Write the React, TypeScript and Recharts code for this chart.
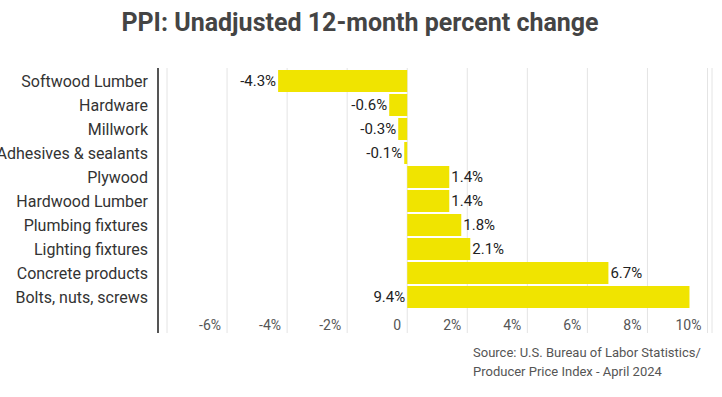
import { BarChart, Bar, XAxis, YAxis, CartesianGrid, LabelList } from 'recharts';

// ─── Data ────────────────────────────────────────────────────────────────────
const categories = [
  'Softwood Lumber',
  'Hardware',
  'Millwork',
  'Adhesives & sealants',
  'Plywood',
  'Hardwood Lumber',
  'Plumbing fixtures',
  'Lighting fixtures',
  'Concrete products',
  'Bolts, nuts, screws',
];
const changes = [-4.3, -0.6, -0.3, -0.1, 1.4, 1.4, 1.8, 2.1, 6.7, 9.4];
const xTicks = [-8, -6, -4, -2, 0, 2, 4, 6, 8, 10];

const data = categories.map((name, i) => ({ name, value: changes[i] }));

const FONT = 'Roboto, "Noto Sans", sans-serif';
const BAR_COLOR = '#f0e400';

// ─── X tick: right-aligned just left of its gridline ────────────────────────
const XTick = (props: any) => {
  const { x, y, payload } = props;
  const v = payload.value as number;
  if (v === -8) return null;
  return (
    <text x={x - 6} y={y - 3} textAnchor="end" fill="#555" fontSize={14} fontFamily={FONT}>
      {v === 0 ? '0' : `${v}%`}
    </text>
  );
};

// ─── Value label ─────────────────────────────────────────────────────────────
const ValueLabel = (props: any) => {
  const { x, y, width, height, value } = props;
  const left = Math.min(x, x + width);
  const right = Math.max(x, x + width);
  const cy = y + height / 2;
  // negative values, and the bar running off the right edge, get the label on the left
  const onLeft = value < 0 || right > 660;
  return (
    <text
      x={onLeft ? left - 2 : right + 2}
      y={cy}
      dy="0.36em"
      textAnchor={onLeft ? 'end' : 'start'}
      fill="#222"
      fontSize={15}
      fontFamily={FONT}
    >
      {`${value}%`}
    </text>
  );
};

export default function App() {
  return (
    <div style={{ position: 'fixed', left: 0, top: 0, width: 722, height: 397, background: '#fff', fontFamily: FONT }}>
      <div
        style={{
          position: 'absolute', left: 0, width: 722, top: 8, textAlign: 'center',
          fontSize: 25, fontWeight: 700, color: '#444',
        }}
      >
        <span style={{ position: 'relative', left: -1 }}>PPI: Unadjusted 12-month percent change</span>
      </div>
      <BarChart
        width={722}
        height={397}
        data={data}
        layout="vertical"
        margin={{ top: 68, right: 10, bottom: 63, left: 0 }}
        barCategoryGap={1}
      >
        <CartesianGrid horizontal={false} stroke="#e4e4e4" />
        <XAxis
          type="number"
          domain={[-8.3, 10.15]}
          ticks={xTicks}
          allowDataOverflow
          height={1}
          axisLine={false}
          tickLine={false}
          tickSize={0}
          tickMargin={0}
          tick={<XTick />}
        />
        <YAxis
          type="category"
          dataKey="name"
          width={158}
          padding={{ top: 1, bottom: 24 }}
          axisLine={{ stroke: '#555', strokeWidth: 2 }}
          tickLine={false}
          tickSize={0}
          tickMargin={10}
          interval={0}
          tick={{ fill: '#333', fontSize: 16, fontFamily: FONT }}
        />
        <Bar dataKey="value" fill={BAR_COLOR} isAnimationActive={false}>
          <LabelList dataKey="value" content={<ValueLabel />} />
        </Bar>
      </BarChart>
      <div
        style={{
          position: 'absolute', left: 473, top: 343, fontSize: 13, lineHeight: '19px', color: '#555',
        }}
      >
        Source: U.S. Bureau of Labor Statistics/
        <br />
        Producer Price Index - April 2024
      </div>
    </div>
  );
}
